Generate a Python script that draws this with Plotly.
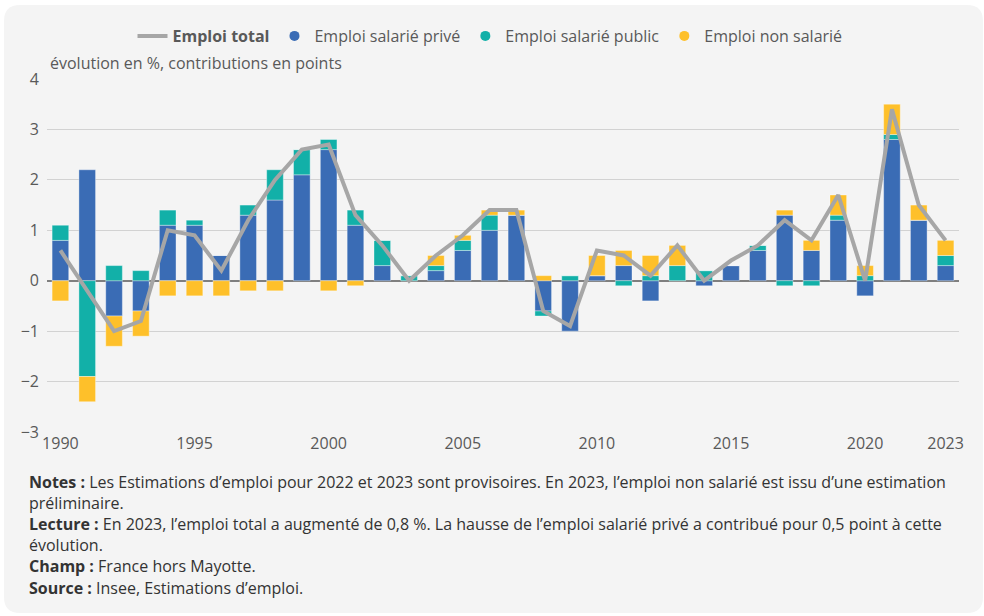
import plotly.graph_objects as go

years = list(range(1990, 2024))
prive = [0.8, 2.2, -0.7, -0.6, 1.1, 1.1, 0.5, 1.3, 1.6, 2.1, 2.6, 1.1, 0.3, 0.0, 0.2, 0.6, 1.0, 1.3,
         -0.6, -1.0, 0.1, 0.3, -0.4, 0.0, -0.1, 0.3, 0.6, 1.3, 0.6, 1.2, -0.3, 2.8, 1.2, 0.3]
public = [0.3, -1.9, 0.3, 0.2, 0.3, 0.1, 0.0, 0.2, 0.6, 0.5, 0.2, 0.3, 0.5, 0.1, 0.1, 0.2, 0.3, 0.0,
          -0.1, 0.1, 0.0, -0.1, 0.1, 0.3, 0.2, 0.0, 0.1, -0.1, -0.1, 0.1, 0.1, 0.1, 0.0, 0.2]
non_sal = [-0.4, -0.5, -0.6, -0.5, -0.3, -0.3, -0.3, -0.2, -0.2, 0.0, -0.2, -0.1, 0.0, 0.0, 0.2, 0.1, 0.1, 0.1,
           0.1, 0.0, 0.4, 0.3, 0.4, 0.4, 0.0, 0.0, 0.0, 0.1, 0.2, 0.4, 0.2, 0.6, 0.3, 0.3]
total = [0.6, -0.2, -1.0, -0.8, 1.0, 0.9, 0.2, 1.2, 2.0, 2.6, 2.7, 1.3, 0.7, 0.0, 0.5, 0.9, 1.4, 1.4,
         -0.6, -0.9, 0.6, 0.5, 0.1, 0.7, 0.0, 0.4, 0.7, 1.2, 0.8, 1.7, 0.0, 3.4, 1.5, 0.8]
tick_years = [1990, 1995, 2000, 2005, 2010, 2015, 2020, 2023]
y_ticks = [-3, -2, -1, 0, 1, 2, 3, 4]

C_PRIVE = "#3a6cb5"
C_PUBLIC = "#12b0a8"
C_NONSAL = "#fec02a"
C_TOTAL = "#a6a6a6"
FONT = "Open Sans"
FS = 16
W, H = 984, 616
ML, MR, MT, MB = 47, 25, 79, 184
PW, PH = W - ML - MR, H - MT - MB

fig = go.Figure()
bar_line = dict(width=0.8, color="rgba(255,255,255,0.45)")
for name, vals, col in [("Emploi salarié privé", prive, C_PRIVE),
                        ("Emploi salarié public", public, C_PUBLIC),
                        ("Emploi non salarié", non_sal, C_NONSAL)]:
    fig.add_trace(go.Bar(x=years, y=vals, name=name, marker=dict(color=col, line=bar_line),
                         width=0.62, showlegend=False))

fig.add_trace(go.Scatter(x=years, y=total, mode="lines", name="<b>Emploi total</b>",
                         line=dict(color=C_TOTAL, width=4), showlegend=True))
for name, col in [("Emploi salarié privé", C_PRIVE), ("Emploi salarié public", C_PUBLIC),
                  ("Emploi non salarié", C_NONSAL)]:
    fig.add_trace(go.Scatter(x=[None], y=[None], mode="markers", name=name,
                             marker=dict(color=col, size=10, symbol="circle")))


def px2paper(px, py):
    return (px - ML) / PW, 1 - (py - MT) / PH


# rounded card background
x0, y0, x1, y1, r = 4, 5, 983, 613, 16
def P(x, y):
    a, b = px2paper(x, y)
    return f"{a:.5f},{b:.5f}"
path = (f"M {P(x0 + r, y0)} L {P(x1 - r, y0)} Q {P(x1, y0)} {P(x1, y0 + r)} "
        f"L {P(x1, y1 - r)} Q {P(x1, y1)} {P(x1 - r, y1)} L {P(x0 + r, y1)} "
        f"Q {P(x0, y1)} {P(x0, y1 - r)} L {P(x0, y0 + r)} Q {P(x0, y0)} {P(x0 + r, y0)} Z")
shapes = [dict(type="path", xref="paper", yref="paper", path=path, fillcolor="#f4f4f4",
               line=dict(width=0), layer="below")]

annotations = []
ax, ay = px2paper(48, 63)
annotations.append(dict(x=ax, y=ay, xref="paper", yref="paper", xanchor="left", yanchor="middle",
                        showarrow=False, text="évolution en %, contributions en points",
                        font=dict(family=FONT, size=FS, color="#595959")))
notes = [
    (482, "<b>Notes :</b> Les Estimations d’emploi pour 2022 et 2023 sont provisoires. En 2023, l’emploi non salarié est issu d’une estimation"),
    (503, "préliminaire."),
    (524, "<b>Lecture :</b> En 2023, l’emploi total a augmenté de 0,8 %. La hausse de l’emploi salarié privé a contribué pour 0,5 point à cette"),
    (545, "évolution."),
    (566, "<b>Champ :</b> France hors Mayotte."),
    (588, "<b>Source :</b> Insee, Estimations d’emploi."),
]
for py, txt in notes:
    ax, ay = px2paper(27, py)
    annotations.append(dict(x=ax, y=ay, xref="paper", yref="paper", xanchor="left", yanchor="middle",
                            showarrow=False, text=txt, align="left",
                            font=dict(family=FONT, size=FS, color="#333333")))

lx, ly = px2paper(490, 36)
fig.update_layout(
    width=W, height=H,
    margin=dict(l=ML, r=MR, t=MT, b=MB, pad=0),
    paper_bgcolor="white", plot_bgcolor="rgba(0,0,0,0)",
    barmode="relative", bargap=0.38,
    font=dict(family=FONT, size=FS, color="#595959"),
    legend=dict(orientation="h", x=lx, y=ly, xanchor="center", yanchor="middle",
                font=dict(family=FONT, size=FS, color="#595959"), bgcolor="rgba(0,0,0,0)",
                itemwidth=30, traceorder="normal"),
    xaxis=dict(range=[1989.5, 2023.5], tickvals=tick_years, ticktext=[str(t) for t in tick_years],
               showgrid=False, zeroline=False, showline=False, ticks="",
               tickfont=dict(family=FONT, size=FS, color="#595959")),
    yaxis=dict(range=[-3, 4], tickvals=y_ticks, showgrid=True, gridcolor="#d2d2d2", gridwidth=1.2,
               zeroline=True, zerolinecolor="#7f7f7f", zerolinewidth=1.5, ticks="",
               ticklabelstandoff=7,
               tickfont=dict(family=FONT, size=FS, color="#595959")),
    shapes=shapes, annotations=annotations,
)

fig.write_html("out.html", config={"displayModeBar": False},
               post_script="document.body.style.margin='0';")
